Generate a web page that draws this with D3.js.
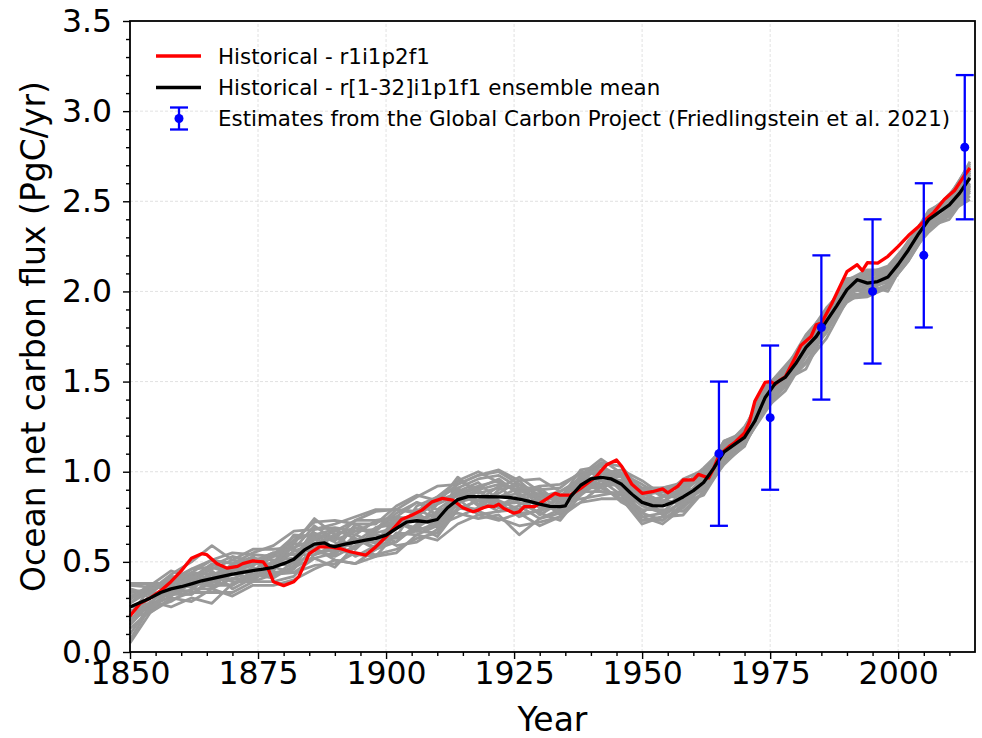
<!DOCTYPE html>
<html lang="en">
<head>
<meta charset="UTF-8">
<script src="https://cdn.jsdelivr.net/npm/d3@7"></script>
<title>Ocean net carbon flux</title>
<style>
  body { margin: 0; background: #fff; }
  svg { font-family: "DejaVu Sans", sans-serif; }
</style>
</head>
<body>
<svg id="chart"></svg>
<script>
// r1i1p2f1 historical run, [year, PgC/yr]
const redRun = [[1850,0.20],[1852,0.27],[1854,0.30],[1856,0.34],[1858,0.39],[1860,0.45],[1862,0.52],[1864,0.545],[1865,0.54],[1867,0.49],
  [1869,0.465],[1871,0.475],[1872,0.49],[1874,0.505],[1876,0.50],[1877,0.46],[1878,0.39],[1880,0.368],[1882,0.39],[1883,0.42],
  [1885,0.545],[1887,0.583],[1889,0.583],[1891,0.574],[1893,0.556],[1896,0.537],[1898,0.583],[1900,0.639],[1903,0.735],[1905,0.759],
  [1907,0.787],[1909,0.833],[1911,0.852],[1913,0.843],[1915,0.80],[1917,0.778],[1918,0.787],[1919,0.80],[1920,0.809],[1921,0.806],
  [1922,0.82],[1923,0.796],[1925,0.77],[1926,0.778],[1927,0.806],[1929,0.806],[1930,0.824],[1931,0.843],[1933,0.88],[1934,0.87],
  [1936,0.87],[1938,0.907],[1941,0.972],[1943,1.037],[1945,1.065],[1946,1.03],[1947,0.98],[1948,0.93],[1949,0.905],[1950,0.88],
  [1952,0.889],[1954,0.905],[1955,0.883],[1957,0.92],[1958,0.954],[1960,0.955],[1961,0.985],[1963,0.965],[1964,1.02],[1965,1.09],
  [1967,1.14],[1968,1.16],[1970,1.215],[1971,1.28],[1972,1.39],[1974,1.495],[1975,1.50],[1976,1.485],[1977,1.51],[1978,1.528],
  [1980,1.64],[1981,1.70],[1983,1.75],[1984,1.815],[1985,1.824],[1987,1.93],[1989,2.05],[1990,2.11],[1992,2.148],[1993,2.115],
  [1994,2.16],[1996,2.157],[1998,2.195],[2000,2.25],[2002,2.31],[2004,2.36],[2005,2.389],[2007,2.44],[2009,2.51],[2011,2.56],
  [2013,2.645],[2014,2.685]];

// r[1-32]i1p1f1 ensemble mean
const ensMean = [[1850,0.25],[1852,0.275],[1854,0.30],[1856,0.33],[1858,0.35],[1860,0.362],[1862,0.378],[1864,0.395],[1866,0.407],[1868,0.42],
  [1870,0.432],[1872,0.442],[1874,0.452],[1876,0.46],[1878,0.47],[1880,0.49],[1882,0.515],[1884,0.565],[1886,0.598],[1888,0.605],
  [1889,0.59],[1890,0.585],[1892,0.598],[1894,0.61],[1896,0.62],[1898,0.63],[1900,0.648],[1902,0.685],[1904,0.72],[1906,0.728],
  [1908,0.722],[1910,0.735],[1912,0.80],[1914,0.845],[1916,0.862],[1918,0.862],[1920,0.861],[1922,0.86],[1924,0.857],[1926,0.848],
  [1928,0.835],[1930,0.82],[1932,0.808],[1934,0.806],[1935,0.81],[1936,0.86],[1938,0.925],[1940,0.96],[1942,0.969],[1944,0.96],
  [1946,0.93],[1948,0.875],[1950,0.83],[1952,0.812],[1954,0.81],[1956,0.83],[1958,0.86],[1960,0.895],[1962,0.94],[1964,1.02],
  [1966,1.11],[1968,1.15],[1970,1.19],[1972,1.28],[1974,1.41],[1976,1.49],[1978,1.525],[1980,1.60],[1982,1.69],[1984,1.75],
  [1986,1.835],[1988,1.92],[1990,2.01],[1992,2.065],[1994,2.046],[1996,2.055],[1998,2.08],[2000,2.15],[2002,2.23],[2004,2.32],
  [2006,2.40],[2008,2.44],[2010,2.48],[2012,2.545],[2014,2.63]];

// individual ensemble members (grey), sampled every 4 years
const memberYears = [1850,1854,1858,1862,1866,1870,1874,1878,1882,1886,1890,1894,1898,1902,1906,1910,1914,1918,1922,1926,1930,
  1934,1938,1942,1946,1950,1954,1958,1962,1966,1970,1974,1978,1982,1986,1990,1994,1998,2002,2006,2010,2014];
const members = [
  [0.37,0.36,0.40,0.46,0.51,0.55,0.54,0.53,0.62,0.72,0.73,0.71,0.71,0.81,0.87,0.84,0.93,0.98,1.00,0.93,0.87,0.83,0.91,1.01,0.99,0.91,0.91,0.94,0.98,1.16,1.22,1.47,1.57,1.76,1.89,2.07,2.09,2.11,2.25,2.43,2.53,2.71],
  [0.05,0.22,0.29,0.33,0.33,0.33,0.39,0.43,0.44,0.48,0.49,0.55,0.54,0.57,0.63,0.66,0.80,0.78,0.74,0.70,0.72,0.75,0.89,0.89,0.87,0.73,0.73,0.81,0.88,1.06,1.15,1.35,1.48,1.61,1.78,1.96,1.97,2.02,2.19,2.35,2.42,2.55],
  [0.30,0.33,0.32,0.42,0.39,0.49,0.41,0.49,0.65,0.64,0.56,0.71,0.65,0.64,0.81,0.86,0.91,0.82,0.88,0.95,0.85,0.76,0.97,1.05,0.90,0.77,0.86,0.88,0.91,1.15,1.21,1.38,1.58,1.70,1.80,2.04,2.11,2.08,2.20,2.42,2.48,2.67],
  [0.15,0.27,0.37,0.36,0.44,0.40,0.47,0.42,0.50,0.66,0.61,0.53,0.59,0.72,0.67,0.72,0.89,0.94,0.84,0.79,0.86,0.89,0.95,0.93,0.98,0.85,0.76,0.84,0.97,1.08,1.23,1.43,1.51,1.72,1.89,1.99,2.05,2.12,2.25,2.38,2.51,2.60],
  [0.33,0.34,0.41,0.40,0.46,0.51,0.57,0.57,0.58,0.62,0.67,0.73,0.78,0.79,0.78,0.86,0.95,1.00,0.94,0.89,0.92,0.93,0.99,0.99,1.01,0.95,0.87,0.90,1.00,1.13,1.24,1.45,1.55,1.74,1.91,2.03,2.09,2.10,2.27,2.42,2.51,2.65],
  [0.25,0.25,0.31,0.38,0.37,0.37,0.43,0.50,0.47,0.52,0.55,0.63,0.57,0.61,0.70,0.64,0.79,0.84,0.78,0.81,0.74,0.77,0.83,0.92,0.93,0.75,0.71,0.80,0.92,1.05,1.16,1.33,1.49,1.60,1.74,1.95,2.01,2.02,2.20,2.33,2.43,2.53],
  [0.20,0.36,0.37,0.43,0.41,0.46,0.43,0.41,0.48,0.63,0.67,0.65,0.73,0.75,0.73,0.77,0.81,0.79,0.90,0.93,0.80,0.81,0.87,0.99,0.97,0.81,0.83,0.92,0.96,1.11,1.15,1.44,1.50,1.67,1.86,2.05,2.03,2.05,2.23,2.43,2.49,2.63],
  [0.10,0.26,0.33,0.32,0.39,0.43,0.40,0.47,0.56,0.56,0.53,0.59,0.63,0.63,0.69,0.76,0.77,0.74,0.76,0.65,0.74,0.79,0.91,0.91,0.85,0.71,0.75,0.84,0.90,1.11,1.16,1.36,1.51,1.57,1.80,1.98,1.99,2.04,2.18,2.37,2.42,2.58],
  [0.35,0.32,0.42,0.41,0.49,0.45,0.50,0.55,0.54,0.58,0.64,0.57,0.67,0.77,0.83,0.79,0.87,0.91,0.96,0.87,0.88,0.85,1.01,1.03,0.91,0.87,0.89,0.88,0.99,1.14,1.24,1.41,1.57,1.73,1.82,2.06,2.08,2.13,2.26,2.44,2.50,2.68],
  [0.23,0.24,0.28,0.35,0.35,0.41,0.39,0.39,0.42,0.54,0.57,0.54,0.53,0.66,0.65,0.70,0.75,0.80,0.82,0.83,0.77,0.73,0.87,0.95,0.87,0.79,0.79,0.78,0.89,1.07,1.17,1.37,1.47,1.66,1.79,1.94,2.01,2.06,2.19,2.36,2.45,2.57],
  [0.27,0.34,0.43,0.50,0.59,0.51,0.49,0.49,0.60,0.74,0.65,0.69,0.66,0.69,0.77,0.70,0.85,0.90,0.93,0.90,0.84,0.87,0.93,1.05,1.03,0.89,0.83,0.91,0.97,1.17,1.21,1.46,1.56,1.69,1.88,2.07,2.07,2.09,2.28,2.40,2.52,2.69],
  [0.17,0.28,0.25,0.30,0.27,0.38,0.43,0.43,0.46,0.58,0.51,0.49,0.57,0.65,0.67,0.66,0.83,0.86,0.80,0.77,0.78,0.83,0.85,0.87,0.89,0.81,0.77,0.83,0.87,1.05,1.14,1.39,1.49,1.64,1.81,1.97,1.98,2.03,2.17,2.35,2.44,2.51],
  [0.38,0.38,0.38,0.44,0.43,0.47,0.52,0.51,0.52,0.68,0.69,0.67,0.68,0.79,0.77,0.82,0.97,0.88,0.91,0.97,0.89,0.83,0.98,1.07,0.99,0.93,0.86,0.96,1.01,1.14,1.24,1.47,1.56,1.75,1.87,2.05,2.10,2.14,2.27,2.45,2.51,2.72],
  [0.22,0.30,0.34,0.34,0.45,0.35,0.41,0.47,0.44,0.52,0.47,0.59,0.65,0.59,0.61,0.68,0.85,0.76,0.78,0.79,0.82,0.78,0.91,0.93,0.83,0.77,0.73,0.82,0.92,1.09,1.15,1.38,1.53,1.65,1.78,1.98,2.03,2.00,2.21,2.37,2.46,2.59],
  [0.31,0.35,0.38,0.46,0.47,0.45,0.48,0.54,0.64,0.65,0.63,0.73,0.73,0.73,0.75,0.72,0.91,0.96,0.98,0.91,0.85,0.77,0.95,0.97,0.95,0.89,0.91,0.93,0.96,1.16,1.21,1.45,1.53,1.71,1.86,2.06,2.12,2.12,2.25,2.43,2.52,2.66],
  [0.13,0.23,0.35,0.40,0.38,0.47,0.45,0.48,0.56,0.60,0.56,0.61,0.61,0.74,0.75,0.69,0.79,0.84,0.86,0.88,0.80,0.85,0.97,0.95,0.93,0.83,0.84,0.83,0.93,1.09,1.17,1.39,1.55,1.72,1.83,2.01,2.00,2.07,2.24,2.40,2.50,2.65],
  [0.33,0.35,0.37,0.44,0.51,0.49,0.55,0.59,0.67,0.68,0.71,0.75,0.79,0.79,0.86,0.92,0.93,0.98,1.01,0.95,0.96,0.89,0.96,1.03,0.97,0.90,0.90,0.91,0.97,1.17,1.22,1.46,1.59,1.72,1.90,2.05,2.10,2.12,2.26,2.44,2.53,2.70],
  [0.19,0.22,0.30,0.28,0.35,0.31,0.37,0.37,0.40,0.46,0.51,0.49,0.53,0.55,0.65,0.62,0.71,0.76,0.73,0.77,0.70,0.75,0.83,0.85,0.85,0.73,0.75,0.76,0.89,1.04,1.15,1.35,1.45,1.64,1.77,1.97,1.98,2.03,2.17,2.36,2.40,2.56],
  [0.27,0.37,0.45,0.41,0.48,0.53,0.50,0.55,0.57,0.70,0.62,0.67,0.72,0.74,0.75,0.84,0.88,0.92,0.95,0.89,0.90,0.91,1.00,0.99,0.99,0.86,0.83,0.92,1.02,1.13,1.25,1.43,1.58,1.71,1.87,2.07,2.08,2.12,2.28,2.42,2.54,2.67],
  [0.17,0.32,0.31,0.40,0.36,0.45,0.50,0.45,0.60,0.60,0.65,0.57,0.69,0.71,0.69,0.82,0.87,0.84,0.92,0.82,0.84,0.86,0.93,0.92,0.95,0.86,0.77,0.90,0.90,1.15,1.17,1.43,1.51,1.73,1.82,2.03,2.03,2.09,2.21,2.42,2.46,2.64],
  [0.25,0.27,0.39,0.36,0.43,0.39,0.39,0.51,0.49,0.63,0.54,0.65,0.60,0.75,0.83,0.76,0.82,0.90,0.81,0.87,0.76,0.83,0.89,1.00,0.89,0.75,0.77,0.88,0.91,1.11,1.22,1.37,1.54,1.67,1.87,1.99,2.07,2.05,2.24,2.38,2.49,2.60],
  [0.35,0.30,0.32,0.32,0.41,0.48,0.53,0.44,0.46,0.65,0.68,0.63,0.58,0.69,0.79,0.74,0.90,0.81,0.86,0.91,0.91,0.82,0.98,1.01,0.93,0.88,0.83,0.84,0.98,1.14,1.19,1.44,1.52,1.72,1.84,2.04,2.05,2.10,2.23,2.41,2.48,2.66],
  [0.07,0.25,0.35,0.42,0.39,0.37,0.45,0.53,0.54,0.54,0.59,0.69,0.65,0.61,0.71,0.78,0.83,0.89,0.83,0.75,0.79,0.85,0.89,0.97,0.99,0.83,0.84,0.82,0.94,1.08,1.20,1.40,1.56,1.66,1.81,2.02,2.01,2.06,2.22,2.38,2.45,2.59],
  [0.29,0.38,0.33,0.38,0.47,0.43,0.41,0.47,0.62,0.66,0.57,0.61,0.69,0.73,0.68,0.70,0.95,0.90,0.80,0.85,0.87,0.79,0.95,0.89,0.88,0.83,0.86,0.86,0.96,1.10,1.15,1.41,1.49,1.69,1.85,2.00,2.07,2.08,2.25,2.40,2.50,2.62]
];

// Global Carbon Project estimates (Friedlingstein et al. 2021)
const gcpYears = [1965, 1975, 1985, 1995, 2005, 2013];
const gcpVals = [1.1, 1.3, 1.8, 2.0, 2.2, 2.8];
const gcpErr = [0.4, 0.4, 0.4, 0.4, 0.4, 0.4];

const xTicks = [1850, 1875, 1900, 1925, 1950, 1975, 2000];
const yTicks = [0.0, 0.5, 1.0, 1.5, 2.0, 2.5, 3.0, 3.5];

const legendLabels = [
  "Historical - r1i1p2f1",
  "Historical - r[1-32]i1p1f1 ensemble mean",
  "Estimates from the Global Carbon Project (Friedlingstein et al. 2021)"
];

const width = 982, height = 738;
const margin = { top: 21, right: 7, bottom: 86, left: 130 };

const svg = d3.select("#chart").attr("width", width).attr("height", height);

const x = d3.scaleLinear().domain([1850, 2015]).range([margin.left, width - margin.right]);
const y = d3.scaleLinear().domain([0, 3.5]).range([height - margin.bottom, margin.top]);

// dashed grid at major ticks
const grid = svg.append("g").attr("stroke", "#d9d9d9").attr("stroke-width", 0.8).attr("stroke-dasharray", "3,2");
grid.selectAll(".gx").data(xTicks.slice(1)).join("line")
  .attr("x1", d => x(d)).attr("x2", d => x(d)).attr("y1", y(0)).attr("y2", y(3.5));
grid.selectAll(".gy").data(yTicks.slice(1, -1)).join("line")
  .attr("x1", x(1850)).attr("x2", x(2015)).attr("y1", d => y(d)).attr("y2", d => y(d));

const line = d3.line().x(d => x(d[0])).y(d => y(d[1]));

// grey members
svg.append("g").selectAll("path").data(members).join("path")
  .attr("d", m => line(d3.zip(memberYears, m)))
  .attr("fill", "none").attr("stroke", "#999999").attr("stroke-width", 2.8)
  .attr("stroke-linejoin", "round");

svg.append("path").attr("d", line(redRun))
  .attr("fill", "none").attr("stroke", "#ff0000").attr("stroke-width", 3.3).attr("stroke-linejoin", "round");
svg.append("path").attr("d", line(ensMean))
  .attr("fill", "none").attr("stroke", "#000").attr("stroke-width", 3.3).attr("stroke-linejoin", "round");

// error bars
const eb = svg.append("g").attr("stroke", "#0000ff").attr("stroke-width", 2.3);
gcpYears.forEach((yr, i) => {
  const cx = x(yr), lo = y(gcpVals[i] - gcpErr[i]), hi = y(gcpVals[i] + gcpErr[i]);
  eb.append("line").attr("x1", cx).attr("x2", cx).attr("y1", lo).attr("y2", hi);
  eb.append("line").attr("x1", cx - 9).attr("x2", cx + 9).attr("y1", lo).attr("y2", lo);
  eb.append("line").attr("x1", cx - 9).attr("x2", cx + 9).attr("y1", hi).attr("y2", hi);
  eb.append("circle").attr("cx", cx).attr("cy", y(gcpVals[i])).attr("r", 4.5).attr("fill", "#0000ff").attr("stroke", "none");
});

// axes
const minorX = d3.range(1855, 2015, 5).filter(v => v % 25 !== 0);
const minorY = d3.range(1, 35).map(v => v / 10).filter(v => Math.round(v * 10) % 5 !== 0);

function styleAxis(g) {
  g.select(".domain").remove();
  g.selectAll(".tick line").attr("stroke", "#000").attr("stroke-width", 1.4);
  g.selectAll("text").attr("fill", "#000").attr("font-size", 31.5).attr("font-family", "DejaVu Sans, sans-serif");
}

svg.append("g").attr("transform", `translate(0,${y(0)})`)
  .call(d3.axisBottom(x).tickValues(xTicks).tickFormat(d3.format("d")).tickSize(7).tickPadding(3)).call(styleAxis);
svg.append("g").attr("transform", `translate(0,${y(0)})`)
  .call(d3.axisBottom(x).tickValues(minorX).tickFormat("").tickSize(4)).call(styleAxis);
svg.append("g").attr("transform", `translate(${x(1850)},0)`)
  .call(d3.axisLeft(y).tickValues(yTicks).tickFormat(d3.format(".1f")).tickSize(7).tickPadding(11)).call(styleAxis);
svg.append("g").attr("transform", `translate(${x(1850)},0)`)
  .call(d3.axisLeft(y).tickValues(minorY).tickFormat("").tickSize(4)).call(styleAxis);

// frame
svg.append("rect").attr("x", x(1850)).attr("y", y(3.5))
  .attr("width", x(2015) - x(1850)).attr("height", y(0) - y(3.5))
  .attr("fill", "none").attr("stroke", "#000").attr("stroke-width", 1.8);

// axis titles
svg.append("text").attr("x", (x(1850) + x(2015)) / 2).attr("y", 731)
  .attr("text-anchor", "middle").attr("font-size", 33).text("Year");
svg.append("text").attr("transform", `translate(45,${(y(0) + y(3.5)) / 2}) rotate(-90)`)
  .attr("text-anchor", "middle").attr("font-size", 33).text("Ocean net carbon flux (PgC/yr)");

// legend
const leg = svg.append("g");
const rowY = [56, 87.5, 118.5];
leg.append("line").attr("x1", 156).attr("x2", 201).attr("y1", rowY[0]).attr("y2", rowY[0])
  .attr("stroke", "#ff0000").attr("stroke-width", 3.5);
leg.append("line").attr("x1", 156).attr("x2", 201).attr("y1", rowY[1]).attr("y2", rowY[1])
  .attr("stroke", "#000").attr("stroke-width", 3.5);
const lg = leg.append("g").attr("stroke", "#0000ff").attr("stroke-width", 2.3);
lg.append("line").attr("x1", 179).attr("x2", 179).attr("y1", rowY[2] - 11).attr("y2", rowY[2] + 11);
lg.append("line").attr("x1", 170).attr("x2", 188).attr("y1", rowY[2] - 11).attr("y2", rowY[2] - 11);
lg.append("line").attr("x1", 170).attr("x2", 188).attr("y1", rowY[2] + 11).attr("y2", rowY[2] + 11);
leg.append("circle").attr("cx", 179).attr("cy", rowY[2]).attr("r", 4.5).attr("fill", "#0000ff");
leg.selectAll("text").data(legendLabels).join("text")
  .attr("x", 218).attr("y", (d, i) => rowY[i] + 7.5)
  .attr("font-size", 21.4).attr("fill", "#000").text(d => d);
</script>
</body>
</html>
